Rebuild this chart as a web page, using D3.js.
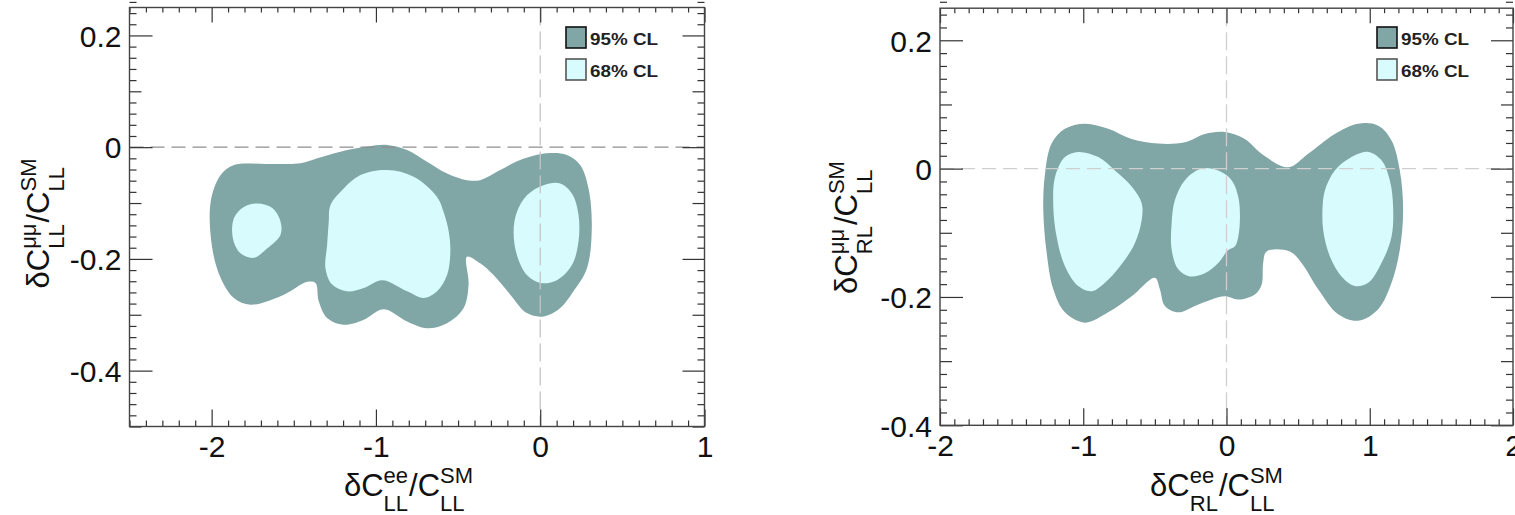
<!DOCTYPE html>
<html>
<head>
<meta charset="utf-8">
<script src="https://cdn.jsdelivr.net/npm/d3@7"></script>
<style>
  html, body { margin: 0; padding: 0; background: #fff; }
  svg { display: block; }
</style>
</head>
<body>
<svg id="chart" width="1515" height="515"></svg>
<script>
// ---------------- DATA ----------------
// Left panel: dC_LL^ee / C_LL^SM  vs  dC_LL^mumu / C_LL^SM
const leftXTicks = [-2, -1, 0, 1];
const leftYTicks = [-0.4, -0.2, 0, 0.2];
const leftOuter95 = [[-2.006,-0.098],[-1.945,-0.050],[-1.864,-0.032],[-1.66,-0.030],[-1.459,-0.029],[-1.357,-0.020],[-1.216,-0.008],[-1.054,0.001],[-0.932,0.004],[-0.810,-0.005],[-0.689,-0.026],[-0.567,-0.047],[-0.446,-0.059],[-0.365,-0.059],[-0.243,-0.041],[-0.122,-0.023],[0.041,-0.011],[0.162,-0.014],[0.243,-0.032],[0.294,-0.074],[0.314,-0.145],[0.284,-0.217],[0.202,-0.258],[0.122,-0.288],[0.020,-0.303],[-0.081,-0.297],[-0.182,-0.264],[-0.284,-0.229],[-0.365,-0.208],[-0.446,-0.196],[-0.436,-0.246],[-0.466,-0.288],[-0.567,-0.315],[-0.689,-0.324],[-0.810,-0.312],[-0.932,-0.291],[-0.973,-0.291],[-1.074,-0.309],[-1.196,-0.318],[-1.297,-0.306],[-1.348,-0.276],[-1.368,-0.243],[-1.418,-0.241],[-1.560,-0.264],[-1.763,-0.282],[-1.864,-0.270],[-1.945,-0.234],[-1.996,-0.181]];
const leftInner68a = [[-1.864,-0.127],[-1.804,-0.107],[-1.722,-0.101],[-1.631,-0.109],[-1.581,-0.133],[-1.581,-0.157],[-1.661,-0.181],[-1.743,-0.198],[-1.824,-0.190],[-1.871,-0.163]];
const leftInner68b = [[-1.277,-0.104],[-1.196,-0.074],[-1.094,-0.050],[-0.932,-0.041],[-0.770,-0.053],[-0.628,-0.089],[-0.588,-0.116],[-0.557,-0.151],[-0.547,-0.187],[-0.567,-0.229],[-0.628,-0.258],[-0.709,-0.270],[-0.810,-0.258],[-0.962,-0.238],[-1.074,-0.252],[-1.175,-0.258],[-1.266,-0.246],[-1.307,-0.217],[-1.297,-0.175],[-1.287,-0.133]];
const leftInner68c = [[-0.142,-0.116],[-0.081,-0.086],[0.020,-0.068],[0.122,-0.065],[0.193,-0.083],[0.233,-0.121],[0.233,-0.169],[0.193,-0.211],[0.102,-0.238],[0.000,-0.243],[-0.081,-0.229],[-0.142,-0.193],[-0.162,-0.151]];

// Right panel: dC_RL^ee / C_LL^SM  vs  dC_RL^mumu / C_LL^SM
const rightXTicks = [-2, -1, 0, 1, 2];
const rightYTicks = [-0.4, -0.2, 0, 0.2];
const rightOuter95 = [[-1.221,0.039],[-1.128,0.062],[-0.988,0.070],[-0.826,0.062],[-0.662,0.046],[-0.477,0.039],[-0.290,0.041],[-0.151,0.054],[-0.011,0.057],[0.128,0.046],[0.245,0.023],[0.431,0.002],[0.570,0.023],[0.756,0.054],[0.919,0.070],[1.059,0.067],[1.152,0.044],[1.210,-0.003],[1.233,-0.065],[1.210,-0.126],[1.152,-0.178],[1.059,-0.219],[0.919,-0.237],[0.779,-0.227],[0.640,-0.188],[0.524,-0.147],[0.442,-0.129],[0.280,-0.129],[0.256,-0.147],[0.245,-0.181],[0.198,-0.196],[0.082,-0.204],[-0.011,-0.199],[-0.104,-0.204],[-0.221,-0.214],[-0.337,-0.224],[-0.430,-0.214],[-0.465,-0.188],[-0.500,-0.170],[-0.662,-0.199],[-0.826,-0.224],[-0.988,-0.240],[-1.128,-0.224],[-1.209,-0.188],[-1.255,-0.132],[-1.279,-0.065],[-1.267,-0.008]];
const rightInner68a = [[-1.197,-0.013],[-1.128,0.018],[-1.035,0.026],[-0.895,0.018],[-0.779,-0.003],[-0.662,-0.028],[-0.592,-0.054],[-0.592,-0.080],[-0.639,-0.116],[-0.709,-0.142],[-0.826,-0.173],[-0.941,-0.191],[-1.035,-0.183],[-1.128,-0.152],[-1.186,-0.106],[-1.209,-0.059]];
const rightInner68b = [[-0.360,-0.049],[-0.290,-0.018],[-0.174,0.000],[-0.058,-0.003],[0.036,-0.018],[0.082,-0.044],[0.094,-0.075],[0.082,-0.106],[0.059,-0.121],[0.012,-0.127],[-0.058,-0.147],[-0.151,-0.163],[-0.255,-0.168],[-0.337,-0.157],[-0.383,-0.126],[-0.383,-0.085]];
const rightInner68c = [[0.687,-0.034],[0.756,-0.003],[0.873,0.018],[0.989,0.026],[1.082,0.013],[1.140,-0.018],[1.163,-0.059],[1.152,-0.106],[1.082,-0.147],[0.989,-0.178],[0.896,-0.183],[0.803,-0.168],[0.722,-0.137],[0.675,-0.096],[0.671,-0.059]];

const legendLabels = ["95% CL", "68% CL"];

// ---------------- STYLE ----------------
const FONT = "'Liberation Sans', Arial, Helvetica, sans-serif";
const C95 = "#80a6a6", C68 = "#d8fcfd";

const svg = d3.select("#chart");

function fmt(d) { return String(+d.toFixed(2)).replace("\u2212", "-"); }

// composed TLatex-like label: parts = [{t}, {sup, sub}, ...]
function mathLabel(parent, parts, M, S, supDy, subDy) {
  const g = parent.append("g");
  let cx = 0;
  function measure(txt, size) {
    const t = g.append("text").attr("font-family", FONT).attr("font-size", size).text(txt);
    const w = t.node().getComputedTextLength();
    t.remove();
    return w;
  }
  parts.forEach(p => {
    if (p.t !== undefined) {
      g.append("text").attr("x", cx).attr("y", 0).attr("font-family", FONT)
        .attr("font-size", M).attr("fill", "#111").text(p.t);
      cx += measure(p.t, M);
    } else {
      g.append("text").attr("x", cx).attr("y", supDy).attr("font-family", FONT)
        .attr("font-size", S).attr("fill", "#111").text(p.sup);
      g.append("text").attr("x", cx).attr("y", subDy).attr("font-family", FONT)
        .attr("font-size", S).attr("fill", "#111").text(p.sub);
      cx += Math.max(measure(p.sup, S), measure(p.sub, S)) + 1;
    }
  });
  g.selectAll("text").attr("transform", `translate(${-cx / 2},0)`);
  return g;
}

function drawPanel(cfg) {
  const x = d3.scaleLinear().domain(cfg.xDomain).range(cfg.xRange);
  const y = d3.scaleLinear().domain(cfg.yDomain).range(cfg.yRange);
  const g = svg.append("g");
  const [x0, x1] = cfg.xRange, [y1, y0] = cfg.yRange;

  const line = d3.line().x(d => x(d[0])).y(d => y(d[1])).curve(d3.curveCatmullRomClosed.alpha(0.5));

  const clip = "clip" + cfg.id;
  g.append("clipPath").attr("id", clip).append("rect")
    .attr("x", x0).attr("y", y0).attr("width", x1 - x0).attr("height", y1 - y0);
  const plot = g.append("g").attr("clip-path", `url(#${clip})`);

  plot.append("path").attr("d", line(cfg.outer)).attr("fill", C95);
  cfg.inner.forEach(c => plot.append("path").attr("d", line(c)).attr("fill", C68));

  // dashed reference lines
  plot.append("line").attr("x1", x0).attr("x2", x1).attr("y1", y(0)).attr("y2", y(0))
    .attr("stroke", cfg.hColor).attr("stroke-width", 1.3).attr("stroke-dasharray", "14,7");
  plot.append("line").attr("x1", x(0)).attr("x2", x(0)).attr("y1", y0).attr("y2", y1)
    .attr("stroke", cfg.vColor).attr("stroke-width", 1.3).attr("stroke-dasharray", "18,6");

  // ticks
  const xMinor = d3.range(Math.round(cfg.xDomain[0] * 10), Math.round(cfg.xDomain[1] * 10) + 1)
    .map(v => v / 10).filter(v => Math.abs(v - Math.round(v)) > 1e-6);
  const yMed = d3.range(Math.round(cfg.yDomain[0] * 10), Math.round(cfg.yDomain[1] * 10) + 1)
    .map(v => v / 10).filter(v => Math.abs(v * 5 - Math.round(v * 5)) > 1e-6);
  const yMinor = d3.range(Math.round(cfg.yDomain[0] * 50), Math.round(cfg.yDomain[1] * 50) + 1)
    .map(v => v / 50).filter(v => Math.abs(v * 10 - Math.round(v * 10)) > 1e-6);

  function ax(axis, tr, vals, size, labels, pad) {
    const a = axis.tickValues(vals).tickSizeInner(-size).tickSizeOuter(0)
      .tickPadding(pad || 8).tickFormat(labels ? fmt : () => "");
    const sel = g.append("g").attr("transform", tr).call(a);
    sel.select(".domain").remove();
    sel.selectAll("line").attr("stroke", "#333").attr("stroke-width", 1.2);
    sel.selectAll("text").attr("font-family", FONT).attr("font-size", 30).attr("fill", "#111");
    return sel;
  }
  // bottom
  ax(d3.axisBottom(x), `translate(0,${y1})`, cfg.xTicks, 17, true, 9);
  ax(d3.axisBottom(x), `translate(0,${y1})`, xMinor, 6, false);
  // top
  ax(d3.axisTop(x), `translate(0,${y0})`, cfg.xTicks, 15, false);
  ax(d3.axisTop(x), `translate(0,${y0})`, xMinor, 5, false);
  // left
  ax(d3.axisLeft(y), `translate(${x0},0)`, cfg.yTicks, 23, true, 8)
    .selectAll("text").attr("dy", "0.36em");
  ax(d3.axisLeft(y), `translate(${x0},0)`, yMed, 12, false);
  ax(d3.axisLeft(y), `translate(${x0},0)`, yMinor, 7, false);
  // right
  ax(d3.axisRight(y), `translate(${x1},0)`, cfg.yTicks, 22, false);
  ax(d3.axisRight(y), `translate(${x1},0)`, yMed, 12, false);
  ax(d3.axisRight(y), `translate(${x1},0)`, yMinor, 7, false);

  // frame
  g.append("rect").attr("x", x0).attr("y", y0).attr("width", x1 - x0).attr("height", y1 - y0)
    .attr("fill", "none").attr("stroke", "#444").attr("stroke-width", 1.4);

  // legend
  const lg = g.append("g");
  legendLabels.forEach((lab, i) => {
    const by = cfg.legY + i * 32;
    lg.append("rect").attr("x", cfg.legX).attr("y", by).attr("width", 20).attr("height", 21)
      .attr("fill", i === 0 ? C95 : C68).attr("stroke", i === 0 ? "#111" : "#555").attr("stroke-width", 1.6);
    lg.append("text").attr("x", cfg.legX + 24).attr("y", by + 18)
      .attr("font-family", FONT).attr("font-size", 17).attr("font-weight", "bold")
      .attr("fill", "#222").attr("textLength", 68).attr("lengthAdjust", "spacingAndGlyphs").text(lab);
  });

  // axis titles
  const xt = g.append("g").attr("transform", `translate(${cfg.xTitleX},496)`);
  mathLabel(xt, cfg.xTitle, 31, 22, -13, 15);
  const yt = g.append("g").attr("transform", `translate(${cfg.yTitleX},${cfg.yTitleY}) rotate(-90)`);
  mathLabel(yt, cfg.yTitle, 31, 22, -13, 15);
}

drawPanel({
  id: "L", xDomain: [-2.5, 1], xRange: [129.5, 704.5], yDomain: [-0.5, 0.25], yRange: [426.5, 7.5],
  xTicks: leftXTicks, yTicks: leftYTicks,
  outer: leftOuter95, inner: [leftInner68a, leftInner68b, leftInner68c],
  hColor: "#8f8f8f", vColor: "#c4c4c4",
  legX: 566, legY: 27,
  xTitle: [{t: "\u03b4C"}, {sup: "ee", sub: "LL"}, {t: "/C"}, {sup: "SM", sub: "LL"}],
  yTitle: [{t: "\u03b4C"}, {sup: "\u03bc\u03bc", sub: "LL"}, {t: "/C"}, {sup: "SM", sub: "LL"}],
  xTitleX: 409, yTitleX: 49, yTitleY: 223
});

drawPanel({
  id: "R", xDomain: [-2, 2], xRange: [940, 1513], yDomain: [-0.4, 0.25], yRange: [425.3, 8.2],
  xTicks: rightXTicks, yTicks: rightYTicks,
  outer: rightOuter95, inner: [rightInner68a, rightInner68b, rightInner68c],
  hColor: "#cfcfcf", vColor: "#cfcfcf",
  legX: 1377, legY: 27,
  xTitle: [{t: "\u03b4C"}, {sup: "ee", sub: "RL"}, {t: "/C"}, {sup: "SM", sub: "LL"}],
  yTitle: [{t: "\u03b4C"}, {sup: "\u03bc\u03bc", sub: "RL"}, {t: "/C"}, {sup: "SM", sub: "LL"}],
  xTitleX: 1217, yTitleX: 857, yTitleY: 227
});
</script>
</body>
</html>
